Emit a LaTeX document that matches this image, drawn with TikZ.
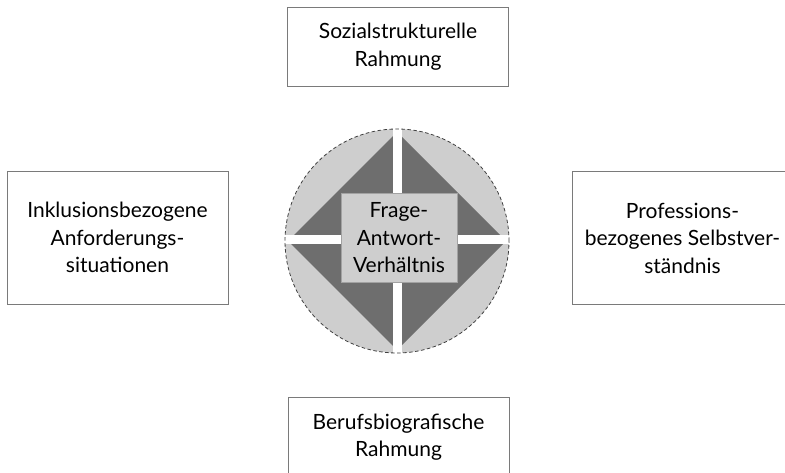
\documentclass[tikz,border=0pt]{standalone}
\usepackage{fontspec}
\setmainfont{Lato}
\definecolor{discgray}{HTML}{CECECE}
\definecolor{wedgegray}{HTML}{6E6E6E}
\definecolor{framegray}{HTML}{7A7A7A}
\tikzset{
  factorbox/.style={draw=framegray, line width=0.8pt, minimum width=221pt,
    minimum height=79pt, align=center, font=\fontsize{21}{27.5}\selectfont},
  corebox/.style={draw=framegray!70, line width=0.5pt, fill=discgray,
    minimum width=116pt, minimum height=89pt, align=center,
    font=\fontsize{21}{27.5}\selectfont}
}
\begin{document}
\begin{tikzpicture}[x=1pt,y=-1pt]
  \useasboundingbox (0,0) rectangle (785,473);
  % disc with diamond and cross
  \coordinate (mid) at (397,241);
  \fill[discgray] (mid) circle (112pt);
  \fill[wedgegray] (mid) ++(-109,0) -- ++(109,-109) -- ++(109,109) -- ++(-109,109) -- cycle;
  \draw[white, line width=9pt] (mid) ++(0,-113) -- ++(0,226);
  \draw[white, line width=9pt] (mid) ++(-113,-1) -- ++(226,0);
  \draw[black!75, dash pattern=on 3.5pt off 2.5pt, line width=0.8pt] (mid) circle (112pt);
  \node[corebox] (core) at (399,238) {Frage-\\Antwort-\\Verhältnis};
  % the four frames
  \node[factorbox] (social) at (398,46.5) {Sozialstrukturelle\\Rahmung};
  \node[factorbox] (bio) at (398.5,437) {Berufsbiografische\\Rahmung};
  \node[factorbox, minimum height=133pt] (incl) at (117.5,237.5)
    {Inklusionsbezogene\\Anforderungs-\\situationen};
  \node[factorbox, minimum height=133pt] (prof) at (682.5,238)
    {Professions-\\bezogenes Selbstver-\\ständnis};
\end{tikzpicture}
\end{document}
